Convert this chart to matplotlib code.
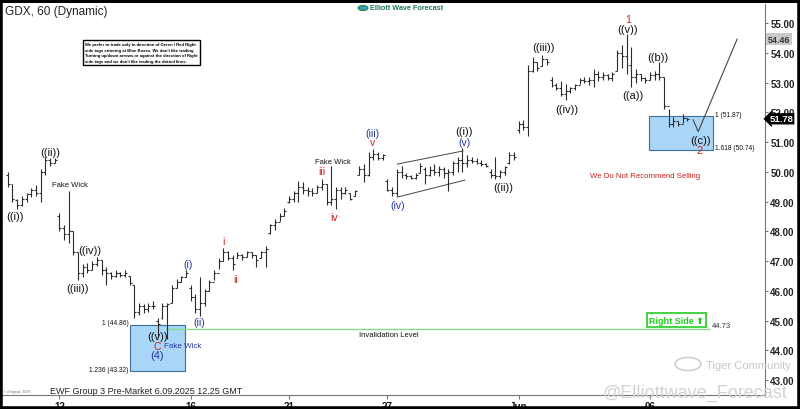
import matplotlib
matplotlib.use("Agg")
import matplotlib.pyplot as plt
from matplotlib.patches import Rectangle, Circle
import matplotlib.transforms as mtransforms
import numpy as np

plt.rcParams["font.family"] = ["Liberation Sans", "DejaVu Sans"]

# ---------------- data (hourly OHLC, GDX) ----------------
highs = [50.0, 49.6, 49.1, 49.2, 49.3, 49.45, 49.55, 50.1, 50.5, 50.45, 50.45,
         48.6, 48.2, 49.35, 48.0, 47.3, 46.9, 46.95,
         47.0, 47.15, 47.05, 46.8, 46.65, 46.7, 46.65,
         46.7, 46.5, 46.2, 45.6, 45.55, 45.6, 45.65,
         45.1, 45.6, 45.6, 46.2, 46.4, 46.5, 46.7,
         46.2, 45.9, 46.45, 46.05, 46.35, 46.7, 47.1,
         47.43, 47.35, 47.2, 47.3, 47.25, 47.35, 47.3,
         47.2, 47.35, 47.5, 48.25, 48.4, 48.6, 48.8,
         49.2, 49.35, 49.7, 49.65, 49.5, 49.45, 49.55,
         49.75, 49.6, 50.2, 49.5, 49.5, 49.5, 49.3,
         49.4, 50.2, 50.25, 50.65, 50.75, 50.65, 50.6,
         49.75, 49.5, 50.1, 50.2, 49.95, 49.9, 49.95,
         50.3, 50.15, 50.2, 50.25, 50.2, 50.15, 50.1,
         50.35, 50.5, 50.8, 50.55, 50.5, 50.45, 50.4,
         50.3, 50.1, 50.5, 50.05, 50.2, 50.65, 50.65,
         51.7, 51.75, 53.6, 53.85, 53.7, 53.92, 53.8,
         53.2, 53.0, 53.05, 52.95, 52.85, 52.95, 53.15,
         53.2, 53.2, 53.45, 53.4, 53.35, 53.3, 53.35,
         54.1, 54.25, 54.63, 54.2, 53.45, 53.3, 53.2,
         53.35, 53.4, 53.7, 53.2, 52.1, 51.85, 51.7, 51.95, 51.8]
lows = [49.5, 49.0, 48.75, 48.85, 49.0, 49.15, 49.2, 49.0, 49.9, 50.2, 50.3,
        48.0, 47.7, 47.6, 47.2, 46.35, 46.45, 46.6,
        46.7, 46.85, 46.55, 46.2, 46.4, 46.45, 46.45,
        46.45, 46.2, 45.1, 45.2, 45.25, 45.3, 45.4,
        44.48, 45.05, 44.38, 45.6, 46.1, 46.3, 46.45,
        45.65, 45.25, 45.15, 45.5, 46.0, 46.35, 46.75,
        47.0, 47.05, 46.7, 47.1, 47.05, 47.15, 47.1,
        46.8, 47.1, 46.8, 47.9, 48.05, 48.35, 48.5,
        48.95, 49.0, 49.0, 49.25, 49.2, 49.2, 49.3,
        49.4, 48.9, 48.9, 48.75, 49.1, 49.25, 49.05,
        49.2, 49.9, 49.65, 49.85, 50.4, 50.4, 50.4,
        49.35, 49.2, 49.18, 49.8, 49.75, 49.75, 49.75,
        49.95, 49.6, 49.85, 49.9, 49.85, 49.8, 49.35,
        49.9, 50.0, 50.0, 50.15, 50.3, 50.25, 50.2,
        50.15, 49.8, 49.75, 49.8, 49.9, 50.25, 50.4,
        51.3, 51.4, 51.2, 53.35, 53.4, 53.55, 53.6,
        52.85, 52.75, 52.55, 52.4, 52.65, 52.75, 52.95,
        53.0, 52.9, 52.85, 53.05, 53.1, 53.1, 53.05,
        53.4, 53.5, 53.3, 52.85, 53.0, 53.05, 53.0,
        53.1, 53.1, 53.1, 52.1, 51.5, 51.5, 51.55, 51.65, 51.7]
opens = [49.9, 49.6, 49.05, 48.9, 49.1, 49.25, 49.4, 49.3, 50.0, 50.4, 50.3,
         48.5, 48.1, 47.9, 48.0, 47.3, 46.6, 46.8,
         46.7, 46.9, 47.05, 46.7, 46.6, 46.5, 46.6,
         46.55, 46.5, 46.2, 45.3, 45.5, 45.4, 45.5,
         45.0, 45.1, 45.5, 45.6, 46.1, 46.3, 46.45,
         46.1, 45.8, 45.4, 45.6, 46.0, 46.3, 46.6,
         47.0, 47.3, 47.1, 47.1, 47.2, 47.15, 47.3,
         47.2, 47.1, 47.3, 47.95, 48.2, 48.3, 48.5,
         49.0, 49.1, 49.3, 49.5, 49.4, 49.35, 49.3,
         49.5, 49.6, 49.0, 49.1, 49.4, 49.3, 49.3,
         49.2, 49.9, 50.1, 49.9, 50.5, 50.6, 50.45,
         49.7, 49.4, 49.3, 50.0, 49.9, 49.85, 49.8,
         49.95, 50.1, 49.9, 50.05, 50.0, 50.1, 49.95,
         50.0, 50.3, 50.4, 50.3, 50.4, 50.35, 50.3,
         50.25, 50.0, 49.9, 49.85, 50.0, 50.3, 50.55,
         51.4, 51.6, 51.5, 53.4, 53.7, 53.55, 53.8,
         53.1, 52.9, 52.8, 52.6, 52.7, 52.8, 52.9,
         53.1, 53.05, 53.1, 53.3, 53.2, 53.25, 53.15,
         53.4, 54.0, 53.9, 53.6, 53.2, 53.3, 53.15,
         53.1, 53.25, 53.3, 53.2, 52.2, 51.6, 51.7, 51.6, 51.8]
closes = [49.6, 49.1, 48.9, 49.1, 49.25, 49.4, 49.3, 50.0, 50.4, 50.3, 50.4,
          48.1, 47.9, 48.0, 47.3, 46.6, 46.8, 46.7,
          46.9, 47.05, 46.7, 46.6, 46.5, 46.6, 46.55,
          46.6, 46.25, 45.3, 45.5, 45.4, 45.5, 45.5,
          44.9, 45.5, 45.55, 46.1, 46.3, 46.45, 46.6,
          45.8, 45.4, 45.6, 46.0, 46.3, 46.6, 47.0,
          47.3, 47.1, 46.9, 47.2, 47.15, 47.3, 47.2,
          47.05, 47.3, 47.4, 48.2, 48.3, 48.5, 48.7,
          49.1, 49.3, 49.5, 49.4, 49.35, 49.3, 49.5,
          49.6, 49.0, 49.1, 49.4, 49.3, 49.4, 49.1,
          49.35, 50.1, 49.9, 50.5, 50.6, 50.45, 50.55,
          49.4, 49.3, 50.0, 49.9, 49.85, 49.8, 49.9,
          50.2, 49.9, 50.05, 50.0, 50.1, 49.95, 50.0,
          50.3, 50.4, 50.3, 50.4, 50.35, 50.3, 50.25,
          50.2, 49.9, 49.85, 50.0, 50.15, 50.55, 50.5,
          51.6, 51.5, 53.4, 53.7, 53.5, 53.8, 53.7,
          52.9, 52.8, 52.6, 52.7, 52.8, 52.9, 53.1,
          53.05, 53.1, 53.3, 53.2, 53.25, 53.15, 53.3,
          54.0, 53.9, 53.6, 53.2, 53.3, 53.15, 53.1,
          53.25, 53.3, 53.2, 52.2, 51.6, 51.7, 51.6, 51.8, 51.78]

date_tick_bars = [11, 39, 60, 81, 109, 137]
date_tick_labels = ["12", "16", "21", "27", "Jun", "06"]
price_ticks = [43, 44, 45, 46, 47, 48, 49, 50, 51, 52, 53, 54, 55]

fib_box1 = (44.86, 43.32)
fib_box2 = (51.87, 50.74)
invalidation = 44.73
target_high = 54.46
last_price = 51.78

# ---------------- figure ----------------
fig = plt.figure(figsize=(8, 4.1), dpi=100)
fig.patch.set_facecolor("white")
ax = fig.add_axes([0.003, 0.034, 0.953, 0.954])
ax.set_xlim(-1.15, 161.5)
ax.set_ylim(42.50, 55.64)

x = np.arange(len(highs))
bar_c = "#2b2b2b"
ax.vlines(x, lows, highs, color=bar_c, lw=0.8, zorder=3)
ax.hlines(opens, x - 0.42, x, color=bar_c, lw=0.8, zorder=3)
ax.hlines(closes, x, x + 0.42, color=bar_c, lw=0.8, zorder=3)

# axes styling
for s in ["left", "top"]:
    ax.spines[s].set_visible(False)
for s in ["right", "bottom"]:
    ax.spines[s].set_color("#777777")
    ax.spines[s].set_linewidth(0.8)
ax.yaxis.tick_right()
ax.set_yticks(price_ticks)
ax.set_yticklabels([f"{v:.2f}" for v in price_ticks], fontsize=7,
                   fontweight="bold", color="#222222")
ax.set_xticks(date_tick_bars)
ax.set_xticklabels(date_tick_labels, fontsize=7, fontweight="bold", color="#111111")
ax.tick_params(axis="y", length=2, pad=2, color="#777777")
ax.tick_params(axis="x", length=3, pad=1, color="#777777")

# blue boxes
BOX_FC = "#a9d6f7"
BOX_EC = "#3d6f9c"
ax.add_patch(Rectangle((26.1, fib_box1[1]), 11.6, fib_box1[0] - fib_box1[1],
                       fc=BOX_FC, ec=BOX_EC, lw=0.8, zorder=1))
ax.add_patch(Rectangle((136.8, fib_box2[1]), 13.6, fib_box2[0] - fib_box2[1],
                       fc=BOX_FC, ec=BOX_EC, lw=0.8, zorder=1))

# invalidation line
ax.hlines(invalidation, 33.8, 149.8, color="#7fdc7f", lw=0.9, zorder=2)

# channel lines
ax.plot([83.1, 97.1], [50.26, 50.70], color="#444444", lw=0.7, zorder=2)
ax.plot([83.1, 97.5], [49.15, 49.72], color="#444444", lw=0.7, zorder=2)

# projection path
ax.plot([146.2, 147.3, 155.6], [51.75, 51.35, target_high], color="#444444", lw=0.8, zorder=2)

# ---------------- labels ----------------
BLK = "#111111"
BLUE = "#23359c"
RED = "#cc2020"

def lab(xx, yy, s, c=BLK, fs=8, ha="center", **kw):
    ax.text(xx, yy, s, color=c, fontsize=fs, ha=ha, va="center", zorder=5, **kw)

lab(1.6, 48.51, "((i))")
lab(9.1, 50.66, "((ii))")
lab(13.3, 49.59, "Fake Wick", fs=5.5)
lab(14.8, 46.09, "((iii))")
lab(17.6, 47.37, "((iv))")
lab(25.7, 44.95, "1 (44.86)", fs=4.8, ha="right")
lab(25.7, 43.37, "1.236 (43.32)", fs=4.8, ha="right")
lab(31.9, 44.47, "((v))", fs=8)
lab(31.9, 44.16, "C", c=RED, fs=7.5)
lab(31.9, 43.83, "(4)", c=BLUE, fs=8)
lab(33.3, 44.18, "Fake Wick", c=BLUE, fs=5.8, ha="left")
lab(38.5, 46.90, "(i)", c=BLUE, fs=7.5)
lab(40.9, 44.95, "(ii)", c=BLUE, fs=7.5)
lab(46.0, 47.67, "i", c=RED, fs=7.5)
lab(48.5, 46.39, "ii", c=RED, fs=7.5)
lab(69.4, 50.36, "Fake Wick", fs=5.5)
lab(66.9, 50.03, "iii", c=RED, fs=7.5)
lab(69.6, 48.48, "iv", c=RED, fs=7.5)
lab(77.9, 51.30, "(iii)", c=BLUE, fs=7.5)
lab(77.9, 51.00, "v", c=RED, fs=7.5)
lab(83.1, 48.88, "(iv)", c=BLUE, fs=7.5)
lab(97.4, 51.37, "((i))")
lab(97.4, 51.00, "(v)", c=BLUE, fs=7.5)
lab(105.7, 49.49, "((ii))")
lab(114.2, 54.19, "((iii))")
lab(119.3, 52.11, "((iv))")
lab(132.3, 55.13, "1", c=RED, fs=7.5)
lab(132.3, 54.80, "((v))")
lab(133.4, 52.58, "((a))")
lab(138.7, 53.86, "((b))")
lab(147.7, 51.07, "((c))")
lab(147.5, 50.73, "2", c=RED, fs=8)
lab(150.9, 51.91, "1 (51.87)", fs=4.8, ha="left")
lab(150.9, 50.83, "1.618 (50.74)", fs=4.8, ha="left")
lab(135.9, 49.86, "We Do Not Recommend Selling", c=RED, fs=5.6)
lab(81.2, 44.55, "Invalidation Level", fs=5.5)
lab(150.2, 44.85, "44.73", c="#333333", fs=5.5, ha="left")
ax.text(142.6, 45.02, "Right Side \u2B06", color="#22cc22", fontsize=6.5, fontweight="bold",
        ha="center", va="center", zorder=6,
        family=["Liberation Sans", "DejaVu Sans"],
        bbox=dict(boxstyle="square,pad=0.25", fc="white", ec="#22cc22", lw=1.2))

# price tag boxes on the right axis
tr = mtransforms.blended_transform_factory(ax.transAxes, ax.transData)
ax.text(1.004, target_high, f"{target_high:.2f}", transform=tr, fontsize=6.5,
        fontweight="bold", color="#333333", ha="left", va="center", clip_on=False,
        bbox=dict(boxstyle="square,pad=0.15", fc="#c9c9c9", ec="none"))
ax.text(1.006, last_price, f"{last_price:.2f}", transform=tr, fontsize=6.8,
        fontweight="bold", color="white", ha="left", va="center", clip_on=False,
        zorder=10,
        bbox=dict(boxstyle="larrow,pad=0.12", fc="black", ec="none"))

# ---------------- figure-level texts ----------------
fig.text(5 / 800, 1 - 12 / 410, "GDX, 60 (Dynamic)", fontsize=8.5, color="#222222",
         ha="left", va="center")
fig.text(370 / 800, 1 - 9 / 410, "Elliott Wave Forecast", fontsize=5.2, color="#1f7a55",
         fontweight="bold", ha="left", va="center")
fig.patches.append(Circle((363 / 800, 1 - 9 / 410), 0.006, transform=fig.transFigure,
                          fc="#3a9bd5", ec="#2a8a4a", lw=1, figure=fig))
fig.text(85 / 800, 1 - 53.5 / 410,
         "We prefer to trade only in direction of Green / Red Right\n"
         "side tags entering at Blue Boxes. We don't like trading\n"
         "Turning up/down arrows or against the direction of Right\n"
         "side tags and we don't like trading the dotted lines.",
         fontsize=3.05, fontweight="bold", color="black",
         ha="left", va="center", linespacing=1.45,
         bbox=dict(boxstyle="square,pad=0.5", fc="white", ec="black", lw=1.0))
fig.text(50 / 800, 1 - 392 / 410, "EWF Group 3 Pre-Market 6.09.2025 12.25 GMT",
         fontsize=6.5, color="#222222", ha="left", va="center")
fig.text(3 / 800, 1 - 392 / 410, "\u00a9 eSignal, 2025", fontsize=2.8, color="#777777",
         ha="left", va="center")
fig.text(706 / 800, 1 - 366 / 410, "Tiger Community", fontsize=8, color="#c8c8c8",
         ha="left", va="center")
fig.patches.append(Circle((688 / 800, 1 - 365 / 410), 0.016, transform=fig.transFigure,
                          fc="none", ec="#cfcfcf", lw=1.2, figure=fig))
fig.text(787 / 800, 1 - 393 / 410, "@Elliottwave_Forecast", fontsize=13, color="#d2d2d2",
         ha="right", va="center")

# frame
fig.patches.append(Rectangle((0, 0), 1, 1, transform=fig.transFigure, fill=False,
                             ec="black", lw=4, figure=fig))
fig.patches.append(Rectangle((0, 1 - 4 / 410), 1, 4 / 410, transform=fig.transFigure,
                             fc="black", ec="none", figure=fig))

fig.savefig("out.png", dpi=100)
